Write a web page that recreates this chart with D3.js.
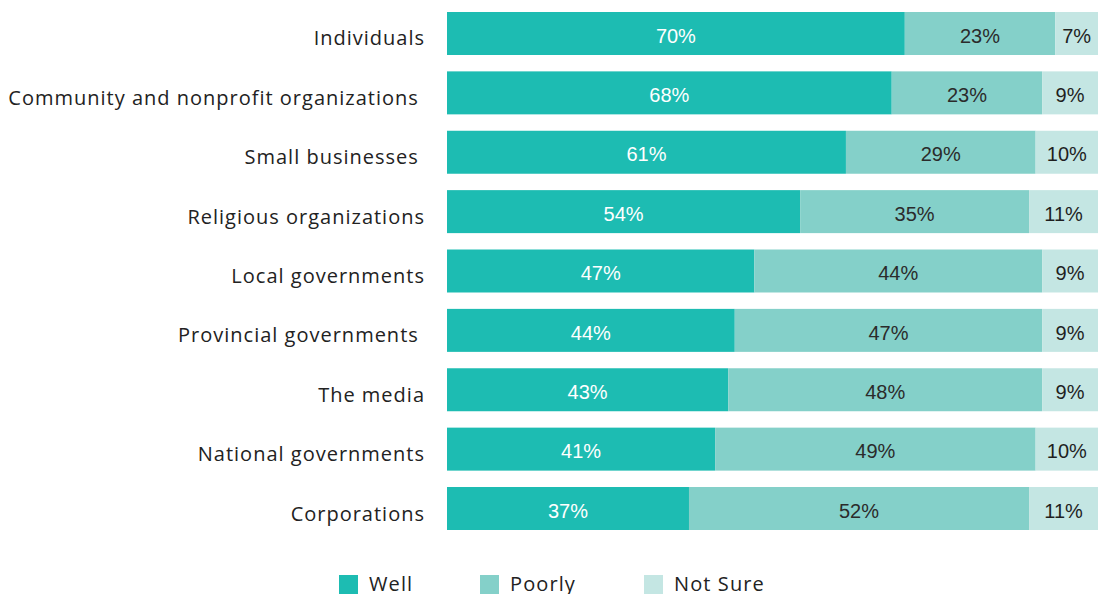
<!DOCTYPE html>
<html>
<head>
<meta charset="utf-8">
<script src="https://cdn.jsdelivr.net/npm/d3@7"></script>
<style>
  html, body { margin: 0; padding: 0; background: #fff; overflow: hidden; }
  svg { display: block; overflow: hidden; }
</style>
</head>
<body>
<svg id="chart" width="1098" height="594"></svg>
<script>
// Survey categories (trailing spaces kept as in the original labels)
const categories = [
  "Individuals",
  "Community and nonprofit organizations ",
  "Small businesses ",
  "Religious organizations",
  "Local governments",
  "Provincial governments ",
  "The media",
  "National governments",
  "Corporations"
];
const well    = [70, 68, 61, 54, 47, 44, 43, 41, 37];
const poorly  = [23, 23, 29, 35, 44, 47, 48, 49, 52];
const notSure = [7, 9, 10, 11, 9, 9, 9, 10, 11];
const seriesNames = ["Well", "Poorly", "Not Sure"];
const seriesColors = ["#1dbcb2", "#84d0c9", "#c4e6e3"];
const labelColors = ["#ffffff", "#2b2b2b", "#1f1f1f"];

const rows = categories.map((c, i) => ({
  category: c, Well: well[i], Poorly: poorly[i], "Not Sure": notSure[i]
}));

const svg = d3.select("#chart");
const W = 1098;
const plotLeft = 447;

// The full 100% runs slightly past the right edge of the canvas
const x = d3.scaleLinear().domain([0, 100]).range([plotLeft, plotLeft + 654]);
const y = d3.scaleBand().domain(categories)
  .range([12, 530]).paddingInner(0.276).paddingOuter(0);

const stack = d3.stack().keys(seriesNames)(rows);

const layers = svg.append("g").selectAll("g")
  .data(stack).join("g")
  .attr("fill", (d, i) => seriesColors[i]);

layers.selectAll("rect")
  .data(d => d)
  .join("rect")
  .attr("x", d => x(d[0]))
  .attr("y", d => y(d.data.category))
  .attr("width", d => Math.min(x(d[1]), W) - x(d[0]))
  .attr("height", y.bandwidth());

// Value labels centred in each visible segment
svg.append("g").selectAll("g")
  .data(stack).join("g")
  .attr("fill", (d, i) => labelColors[i])
  .selectAll("text")
  .data(d => d)
  .join("text")
  .attr("x", d => (x(d[0]) + Math.min(x(d[1]), W)) / 2)
  .attr("y", d => y(d.data.category) + y.bandwidth() / 2)
  .attr("dy", "0.46em")
  .attr("text-anchor", "middle")
  .style("font-family", "'Liberation Sans', Roboto, sans-serif")
  .style("font-size", "20px")
  .text(d => Math.round(d[1] - d[0]) + "%");

// Category axis
const yAxis = d3.axisLeft(y).tickSize(0).tickPadding(22);
const ag = svg.append("g")
  .attr("transform", `translate(${plotLeft},0)`)
  .call(yAxis);
ag.select(".domain").remove();
ag.selectAll("text")
  .attr("dy", "0.6em")
  .style("white-space", "pre")
  .style("font-family", "'Open Sans', Lato, sans-serif")
  .style("font-size", "20px")
  .style("letter-spacing", "1px")
  .attr("fill", "#222");

// Legend
const legendX = [339, 480, 644];
const legend = svg.append("g").selectAll("g")
  .data(seriesNames).join("g")
  .attr("transform", (d, i) => `translate(${legendX[i]},575)`);
legend.append("rect")
  .attr("width", 19).attr("height", 19)
  .attr("fill", (d, i) => seriesColors[i]);
legend.append("text")
  .attr("x", 30).attr("y", 9).attr("dy", "0.36em")
  .style("font-family", "'Open Sans', Lato, sans-serif")
  .style("font-size", "20px")
  .style("letter-spacing", "1.1px")
  .attr("fill", "#222")
  .text(d => d);
</script>
</body>
</html>
